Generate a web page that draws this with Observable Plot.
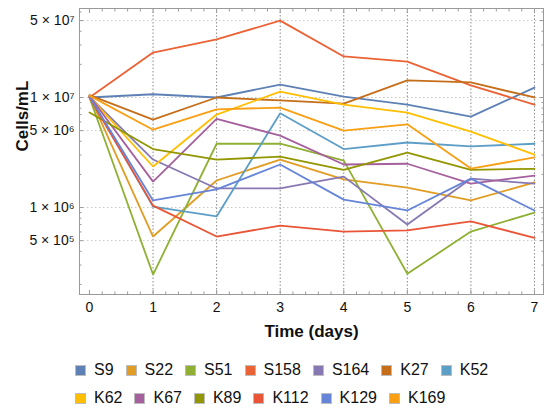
<!DOCTYPE html>
<html>
<head>
<meta charset="utf-8">
<script src="https://cdn.jsdelivr.net/npm/d3@7"></script>
<script src="https://cdn.jsdelivr.net/npm/@observablehq/plot@0.6"></script>
<style>
  html, body { margin: 0; padding: 0; background: #fff; }
  body { width: 550px; height: 411px; overflow: hidden; font-family: "Liberation Sans", Arial, sans-serif; }
  #chart svg { display: block; }
  #legend { padding: 6px 0 0 75px; box-sizing: border-box; width: 550px; }
  .row { display: flex; height: 28px; align-items: center; }
  .item { display: flex; align-items: center; margin-right: 12px; font-size: 16px; color: #111; }
  .sw { width: 9px; height: 9px; border: 1px solid #bdbdbd; margin-right: 8px; }
</style>
</head>
<body>
<div id="chart"></div>
<div id="legend"></div>
<script>
// ---- data ----
const days = [0, 1, 2, 3, 4, 5, 6, 7];
const seriesNames = ["S9", "S22", "S51", "S158", "S164", "K27", "K52", "K62", "K67", "K89", "K112", "K129", "K169"];
const seriesColors = ["#5E81B5", "#E19C24", "#8FB032", "#EB6235", "#8778B3", "#C56E1A", "#5D9EC7", "#FFBF00", "#A5609D", "#929600", "#E95536", "#6685D9", "#F89F13"];

const S9   = [1.00e7, 1.07e7, 1.00e7, 1.31e7, 1.02e7, 8.6e6, 6.7e6, 1.23e7];
const S22  = [1.03e7, 5.45e5, 1.76e6, 2.73e6, 1.80e6, 1.52e6, 1.16e6, 1.69e6];
const S51  = [1.00e7, 2.46e5, 3.80e6, 3.80e6, 2.67e6, 2.50e5, 6.05e5, 9.0e5];
const S158 = [1.00e7, 2.56e7, 3.37e7, 5.00e7, 2.36e7, 2.12e7, 1.29e7, 8.6e6];
const S164 = [1.02e7, 2.73e6, 1.49e6, 1.49e6, 1.91e6, 7.0e5, 1.83e6, 1.65e6];
const K27  = [1.05e7, 6.3e6, 1.00e7, 9.4e6, 8.8e6, 1.43e7, 1.37e7, 1.00e7];
const K52  = [1.02e7, 1.02e6, 8.3e5, 7.2e6, 3.4e6, 3.9e6, 3.6e6, 3.8e6];
const K62  = [1.02e7, 2.36e6, 7.0e6, 1.13e7, 8.6e6, 7.3e6, 4.9e6, 3.03e6];
const K67  = [1.03e7, 1.72e6, 6.4e6, 4.5e6, 2.46e6, 2.50e6, 1.65e6, 1.95e6];
const K89  = [7.3e6, 3.4e6, 2.73e6, 2.90e6, 2.20e6, 3.16e6, 2.20e6, 2.25e6];
const K112 = [1.00e7, 1.04e6, 5.45e5, 6.85e5, 6.05e5, 6.2e5, 7.5e5, 5.3e5];
const K129 = [1.02e7, 1.16e6, 1.46e6, 2.46e6, 1.18e6, 9.4e5, 1.83e6, 9.4e5];
const K169 = [1.04e7, 5.1e6, 7.8e6, 8.1e6, 5.0e6, 5.7e6, 2.26e6, 2.85e6];
const seriesValues = [S9, S22, S51, S158, S164, K27, K52, K62, K67, K89, K112, K129, K169];

const xMajorTicks = [0, 1, 2, 3, 4, 5, 6, 7];
const xMinorTicks = [0.2,0.4,0.6,0.8,1.2,1.4,1.6,1.8,2.2,2.4,2.6,2.8,3.2,3.4,3.6,3.8,4.2,4.4,4.6,4.8,5.2,5.4,5.6,5.8,6.2,6.4,6.6,6.8];
const xGridTicks = [1, 2, 3, 4, 5, 6, 7];
const yMajorTicks = [5e5, 1e6, 5e6, 1e7, 5e7];
const yMinorTicks = [2e5,3e5,4e5,6e5,7e5,8e5,9e5,2e6,3e6,4e6,6e6,7e6,8e6,9e6,2e7,3e7,4e7,6e7];

// ---- build table ----
const rows = [];
seriesNames.forEach((name, i) => {
  days.forEach((d, j) => rows.push({series: name, day: d, value: seriesValues[i][j]}));
});

const sup = {"0":"⁰","1":"¹","2":"²","3":"³","4":"⁴","5":"⁵","6":"⁶","7":"⁷","8":"⁸","9":"⁹"};
function fmtY(d) {
  const e = Math.floor(Math.log10(d) + 1e-9);
  const m = Math.round(d / Math.pow(10, e));
  return `${m} × 10${String(e).split("").map(c => sup[c]).join("")}`;
}
const noLabel = () => "";

const font = "'Liberation Sans', Arial, sans-serif";
const frameColor = "#9a9a9a";

const chart = Plot.plot({
  width: 550,
  height: 350,
  marginLeft: 79,
  marginRight: 7,
  marginTop: 8,
  marginBottom: 56,
  style: {fontFamily: font, background: "#fff", color: "#111"},
  x: {domain: [-0.157, 7.142]},
  y: {type: "log", domain: [1.62e5, 6.44e7]},
  color: {domain: seriesNames, range: seriesColors},
  marks: [
    Plot.gridY(yMajorTicks, {stroke: "#c8c8c8", strokeOpacity: 1, strokeDasharray: "1.5,2.5"}),
    Plot.gridX(xGridTicks, {stroke: "#8a8a8a", strokeOpacity: 1, strokeDasharray: "1.5,2"}),
    Plot.frame({stroke: frameColor}),
    // bottom / top axes
    Plot.axisX(xMajorTicks, {anchor: "bottom", tickSize: -4, tickPadding: 12, tickFormat: d => String(d), fontSize: 14, stroke: frameColor, color: "#111", label: null}),
    Plot.axisX(xMinorTicks, {anchor: "bottom", tickSize: -2.5, tickFormat: noLabel, stroke: frameColor, label: null}),
    Plot.axisX(xMajorTicks, {anchor: "top", tickSize: -4, tickFormat: noLabel, stroke: frameColor, label: null}),
    Plot.axisX(xMinorTicks, {anchor: "top", tickSize: -2.5, tickFormat: noLabel, stroke: frameColor, label: null}),
    // left / right axes (ticks only)
    Plot.axisY(yMajorTicks, {anchor: "left", tickSize: -4, tickFormat: noLabel, stroke: frameColor, label: null}),
    Plot.axisY(yMinorTicks, {anchor: "left", tickSize: -2.5, tickFormat: noLabel, stroke: frameColor, label: null}),
    Plot.axisY(yMajorTicks, {anchor: "right", tickSize: -4, tickFormat: noLabel, stroke: frameColor, label: null}),
    Plot.axisY(yMinorTicks, {anchor: "right", tickSize: -2.5, tickFormat: noLabel, stroke: frameColor, label: null}),
    // y tick labels
    Plot.text(yMajorTicks, {y: d => d, text: fmtY, frameAnchor: "left", textAnchor: "end", dx: -5, fontSize: 14, fill: "#111"}),
    // data
    Plot.line(rows, {x: "day", y: "value", z: "series", stroke: "series", strokeWidth: 1.8, strokeLinejoin: "miter"}),
    // axis titles
    Plot.text(["Time (days)"], {frameAnchor: "bottom", dy: 42, fontSize: 17, fontWeight: "bold", fill: "#111"}),
    Plot.text(["Cells/mL"], {frameAnchor: "left", dx: -57, rotate: -90, fontSize: 17, fontWeight: "bold", fill: "#111"})
  ]
});
document.getElementById("chart").appendChild(chart);

// ---- legend ----
const legend = document.getElementById("legend");
const rowsSplit = [seriesNames.slice(0, 7), seriesNames.slice(7)];
rowsSplit.forEach(names => {
  const r = document.createElement("div");
  r.className = "row";
  names.forEach(n => {
    const it = document.createElement("div");
    it.className = "item";
    const sw = document.createElement("span");
    sw.className = "sw";
    sw.style.background = seriesColors[seriesNames.indexOf(n)];
    it.appendChild(sw);
    it.appendChild(document.createTextNode(n));
    r.appendChild(it);
  });
  legend.appendChild(r);
});
</script>
</body>
</html>
